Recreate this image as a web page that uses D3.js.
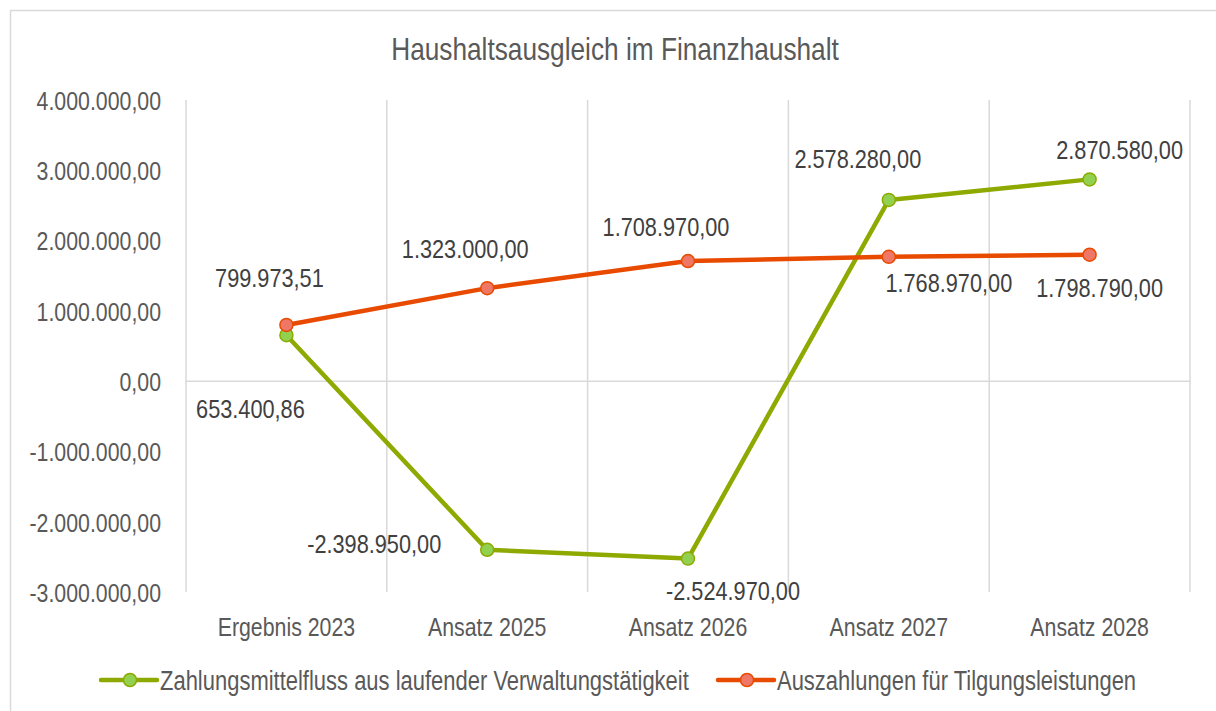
<!DOCTYPE html>
<html lang="de">
<head>
<meta charset="utf-8">
<script src="https://d3js.org/d3.v7.min.js"></script>
<style>
  body { margin: 0; background: #fff; }
  svg { font-family: "Liberation Sans", Arial, sans-serif; fill: #595959; }
</style>
</head>
<body>
<svg width="1216" height="711"></svg>
<script>
// categories and series
var categories = ["Ergebnis 2023", "Ansatz 2025", "Ansatz 2026", "Ansatz 2027", "Ansatz 2028"];
var zahlungsmittelfluss = [653400.86, -2398950, -2524970, 2578280, 2870580];
var tilgung = [799973.51, 1323000, 1708970, 1768970, 1798790];
var yTicks = [4000000, 3000000, 2000000, 1000000, 0, -1000000, -2000000, -3000000];
var seriesNames = ["Zahlungsmittelfluss aus laufender Verwaltungstätigkeit", "Auszahlungen für Tilgungsleistungen"];

// where each data label sits relative to its point (like the hand-moved labels in Excel)
var labelOffsetGreen = [[-36, 73], [-113, -6], [45, 32], [-31, -41], [30, -30]];
var labelOffsetOrange = [[-17, -47], [-22, -40], [-22, -35], [60, 26], [10, 33]];

// no narrow font installed, so squeeze a regular one
var narrow = 0.82;

var svg = d3.select("svg");

var fmt = d3.formatLocale({decimal: ",", thousands: ".", grouping: [3], currency: ["", " €"], minus: "-"}).format(",.2f");

var x = d3.scaleBand().domain(categories).range([186, 1190]).padding(0);
var y = d3.scaleLinear().domain([-3000000, 4000000]).range([592, 100]);

// chart frame
svg.append("rect")
    .attr("x", 10.5).attr("y", 10.5)
    .attr("width", 1220).attr("height", 720)
    .attr("fill", "none").attr("stroke", "#d9d9d9").attr("stroke-width", 1.5);

svg.append("text")
    .attr("transform", "translate(615,60) scale(" + narrow + ",1)")
    .attr("text-anchor", "middle")
    .style("font-size", "32px")
    .text("Haushaltsausgleich im Finanzhaushalt");

// vertical gridlines at category borders
var borders = categories.map(function(c) { return x(c); }).concat([x.range()[1]]);
svg.append("g").selectAll("line")
    .data(borders)
    .enter().append("line")
      .attr("x1", function(d) { return d; })
      .attr("x2", function(d) { return d; })
      .attr("y1", y(4000000))
      .attr("y2", y(-3000000))
      .attr("stroke", "#d9d9d9").attr("stroke-width", 1.5);

// zero line
svg.append("line")
    .attr("x1", x.range()[0]).attr("x2", x.range()[1])
    .attr("y1", y(0)).attr("y2", y(0))
    .attr("stroke", "#d9d9d9").attr("stroke-width", 1.5);

// y axis labels
var yAxis = d3.axisLeft(y).tickValues(yTicks).tickFormat(fmt).tickSize(0);
var ya = svg.append("g").attr("transform", "translate(186,0)").call(yAxis);
ya.select(".domain").remove();
ya.selectAll("text")
    .attr("x", -25 / narrow)
    .attr("transform", "scale(" + narrow + ",1)")
    .attr("fill", "#595959").style("font-size", "26px").attr("dy", "0.36em");

// x axis labels
var xAxis = d3.axisBottom(x).tickSize(0).tickPadding(26);
var xa = svg.append("g").attr("transform", "translate(0," + y(-3000000) + ")").call(xAxis);
xa.select(".domain").remove();
xa.selectAll("text")
    .attr("transform", "scale(" + narrow + ",1)")
    .attr("fill", "#595959").style("font-size", "26px");

var cx = function(d, i) { return x(categories[i]) + x.bandwidth() / 2; };

var series = [
  {values: zahlungsmittelfluss, line: "#8eaa00", fill: "#92d050", offsets: labelOffsetGreen},
  {values: tilgung, line: "#e84a00", fill: "#ee7766", offsets: labelOffsetOrange}
];

var line = d3.line()
    .x(cx)
    .y(function(d) { return y(d); });

series.forEach(function(s) {
  var g = svg.append("g");
  g.append("path")
      .attr("d", line(s.values))
      .attr("fill", "none")
      .attr("stroke", s.line)
      .attr("stroke-width", 4.5)
      .attr("stroke-linejoin", "round");
  g.selectAll("circle")
      .data(s.values)
      .enter().append("circle")
        .attr("cx", cx)
        .attr("cy", function(d) { return y(d); })
        .attr("r", 6.5)
        .attr("fill", s.fill)
        .attr("stroke", s.line)
        .attr("stroke-width", 1.5);
  g.selectAll("text")
      .data(s.values)
      .enter().append("text")
        .attr("transform", function(d, i) {
          return "translate(" + (cx(d, i) + s.offsets[i][0]) + "," + (y(d) + s.offsets[i][1]) + ") scale(" + narrow + ",1)";
        })
        .attr("dy", "0.36em")
        .attr("text-anchor", "middle")
        .attr("fill", "#404040")
        .style("font-size", "26.5px")
        .text(function(d) { return fmt(d); });
});

// legend
var legend = svg.append("g").attr("transform", "translate(0,680)");
var legendX = [101, 718];
series.forEach(function(s, i) {
  var lg = legend.append("g").attr("transform", "translate(" + legendX[i] + ",0)");
  lg.append("line")
      .attr("x1", 0).attr("x2", 56)
      .attr("stroke", s.line).attr("stroke-width", 4.5).attr("stroke-linecap", "round");
  lg.append("circle")
      .attr("cx", 29).attr("r", 6.5)
      .attr("fill", s.fill).attr("stroke", s.line).attr("stroke-width", 1.5);
  lg.append("text")
      .attr("transform", "translate(59,0) scale(" + narrow + ",1)")
      .attr("dy", "0.36em")
      .attr("fill", "#595959")
      .style("font-size", "26.8px")
      .text(seriesNames[i]);
});
</script>
</body>
</html>
